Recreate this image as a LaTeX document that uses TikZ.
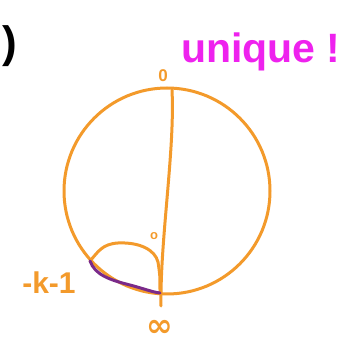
\documentclass[tikz,border=0pt]{standalone}
\usepackage{fontspec}
\setmainfont{Liberation Sans}
\newfontfamily\dejavu{DejaVu Sans}
\definecolor{sketchorange}{HTML}{F39A2B}
\definecolor{sketchmagenta}{HTML}{EE22EE}
\definecolor{sketchpurple}{HTML}{7A2A8A}
\tikzset{
  pen/.style={line width=3pt, line cap=round, line join=round},
  orangepen/.style={pen, draw=sketchorange},
  purplepen/.style={pen, draw=sketchpurple},
  lbl/.style={inner sep=0pt, text=sketchorange},
}
\begin{document}
\begin{tikzpicture}[x=1pt,y=-1pt]
\useasboundingbox (0,0) rectangle (362,347);
% circle
\draw[orangepen] (167,191) circle (103);
% vertical line through the disc
\coordinate (top) at (172,90);
\coordinate (bot) at (161,306);
\draw[orangepen] (top) .. controls (175,150) and (160,240) .. (bot);
% corner points
\coordinate (kpt) at (90,261);
\coordinate (ipt) at (160,293);
% hump curve
\draw[orangepen] (kpt) .. controls (98,252) and (102,244) .. (118,243)
  .. controls (140,242) and (155,250) .. (158,262) .. controls (160,275) .. (ipt);
% purple arc along circle
\draw[purplepen] (kpt) .. controls (95,275) and (110,280) .. (130,285)
  .. controls (145,289) and (152,292) .. (ipt);
% labels
\node[lbl, font=\bfseries\fontsize{17}{17}\selectfont] (zero) at (163,76) {0};
\node[lbl, font=\bfseries\fontsize{13}{13}\selectfont] (szero) at (154,236) {o};
\node[lbl, font=\dejavu\bfseries\fontsize{32}{32}\selectfont] (inf) at (160,328) {∞};
\node[lbl, font=\bfseries\fontsize{30}{30}\selectfont] (km) at (49,283) {-k-1};
\node[inner sep=0pt, text=sketchmagenta, font=\bfseries\fontsize{41}{41}\selectfont, anchor=base west] (uniq) at (181,63) {unique !};
\node[inner sep=0pt, text=black, font=\bfseries\fontsize{44}{44}\selectfont, anchor=base west] (paren) at (2,58) {)};
\end{tikzpicture}
\end{document}
